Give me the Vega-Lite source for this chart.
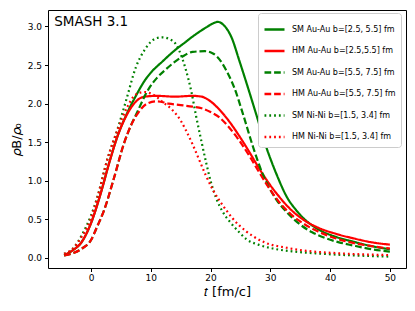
{
  "$schema": "https://vega.github.io/schema/vega-lite/v6.json",
  "width": 358,
  "height": 258,
  "autosize": {"type": "none"},
  "padding": {"left": 48, "top": 10, "right": 9, "bottom": 43},
  "config": {
    "font": "DejaVu Sans",
    "view": {"stroke": "#000", "strokeWidth": 1},
    "axis": {"domain": false, "grid": false, "tickColor": "#000", "tickSize": 3.5, "labelColor": "#000", "labelFontSize": 9, "titleColor": "#000", "titleFontWeight": "normal", "titleFontSize": 13}
  },
  "datasets": {
    "curves": [
      {"s":"SM Au-Au b=[2.5, 5.5] fm","t":-4.5,"v":0.03},{"s":"SM Au-Au b=[2.5, 5.5] fm","t":-3,"v":0.1},{"s":"SM Au-Au b=[2.5, 5.5] fm","t":-1.7,"v":0.19},{"s":"SM Au-Au b=[2.5, 5.5] fm","t":0,"v":0.45},{"s":"SM Au-Au b=[2.5, 5.5] fm","t":1.6,"v":0.83},{"s":"SM Au-Au b=[2.5, 5.5] fm","t":3,"v":1.22},{"s":"SM Au-Au b=[2.5, 5.5] fm","t":4.4,"v":1.57},{"s":"SM Au-Au b=[2.5, 5.5] fm","t":6,"v":1.87},{"s":"SM Au-Au b=[2.5, 5.5] fm","t":7.5,"v":2.1},{"s":"SM Au-Au b=[2.5, 5.5] fm","t":9,"v":2.3},{"s":"SM Au-Au b=[2.5, 5.5] fm","t":10,"v":2.4},{"s":"SM Au-Au b=[2.5, 5.5] fm","t":12,"v":2.55},{"s":"SM Au-Au b=[2.5, 5.5] fm","t":14,"v":2.69},{"s":"SM Au-Au b=[2.5, 5.5] fm","t":15.5,"v":2.78},{"s":"SM Au-Au b=[2.5, 5.5] fm","t":17,"v":2.87},{"s":"SM Au-Au b=[2.5, 5.5] fm","t":18.1,"v":2.93},{"s":"SM Au-Au b=[2.5, 5.5] fm","t":19.3,"v":2.99},{"s":"SM Au-Au b=[2.5, 5.5] fm","t":20.4,"v":3.04},{"s":"SM Au-Au b=[2.5, 5.5] fm","t":21.2,"v":3.06},{"s":"SM Au-Au b=[2.5, 5.5] fm","t":22.3,"v":3.01},{"s":"SM Au-Au b=[2.5, 5.5] fm","t":23.5,"v":2.86},{"s":"SM Au-Au b=[2.5, 5.5] fm","t":24.8,"v":2.56},{"s":"SM Au-Au b=[2.5, 5.5] fm","t":26,"v":2.27},{"s":"SM Au-Au b=[2.5, 5.5] fm","t":27.6,"v":1.87},{"s":"SM Au-Au b=[2.5, 5.5] fm","t":29.3,"v":1.44},{"s":"SM Au-Au b=[2.5, 5.5] fm","t":31,"v":1.09},{"s":"SM Au-Au b=[2.5, 5.5] fm","t":32.9,"v":0.77},{"s":"SM Au-Au b=[2.5, 5.5] fm","t":34.3,"v":0.62},{"s":"SM Au-Au b=[2.5, 5.5] fm","t":36,"v":0.48},{"s":"SM Au-Au b=[2.5, 5.5] fm","t":38.2,"v":0.36},{"s":"SM Au-Au b=[2.5, 5.5] fm","t":41,"v":0.27},{"s":"SM Au-Au b=[2.5, 5.5] fm","t":43.8,"v":0.21},{"s":"SM Au-Au b=[2.5, 5.5] fm","t":47,"v":0.15},{"s":"SM Au-Au b=[2.5, 5.5] fm","t":50,"v":0.11},

      {"s":"HM Au-Au b=[2.5,5.5] fm","t":-4.5,"v":0.035},{"s":"HM Au-Au b=[2.5,5.5] fm","t":-3,"v":0.1},{"s":"HM Au-Au b=[2.5,5.5] fm","t":-1.7,"v":0.19},{"s":"HM Au-Au b=[2.5,5.5] fm","t":0,"v":0.45},{"s":"HM Au-Au b=[2.5,5.5] fm","t":1.6,"v":0.83},{"s":"HM Au-Au b=[2.5,5.5] fm","t":3,"v":1.22},{"s":"HM Au-Au b=[2.5,5.5] fm","t":4.4,"v":1.57},{"s":"HM Au-Au b=[2.5,5.5] fm","t":6.1,"v":1.87},{"s":"HM Au-Au b=[2.5,5.5] fm","t":7,"v":1.98},{"s":"HM Au-Au b=[2.5,5.5] fm","t":8,"v":2.06},{"s":"HM Au-Au b=[2.5,5.5] fm","t":9,"v":2.09},{"s":"HM Au-Au b=[2.5,5.5] fm","t":11,"v":2.1},{"s":"HM Au-Au b=[2.5,5.5] fm","t":14,"v":2.09},{"s":"HM Au-Au b=[2.5,5.5] fm","t":17,"v":2.1},{"s":"HM Au-Au b=[2.5,5.5] fm","t":18.5,"v":2.09},{"s":"HM Au-Au b=[2.5,5.5] fm","t":19.8,"v":2.04},{"s":"HM Au-Au b=[2.5,5.5] fm","t":21.5,"v":1.92},{"s":"HM Au-Au b=[2.5,5.5] fm","t":23.2,"v":1.76},{"s":"HM Au-Au b=[2.5,5.5] fm","t":24.8,"v":1.58},{"s":"HM Au-Au b=[2.5,5.5] fm","t":26.5,"v":1.37},{"s":"HM Au-Au b=[2.5,5.5] fm","t":28.2,"v":1.15},{"s":"HM Au-Au b=[2.5,5.5] fm","t":30,"v":0.94},{"s":"HM Au-Au b=[2.5,5.5] fm","t":31.5,"v":0.79},{"s":"HM Au-Au b=[2.5,5.5] fm","t":33.5,"v":0.62},{"s":"HM Au-Au b=[2.5,5.5] fm","t":35.4,"v":0.5},{"s":"HM Au-Au b=[2.5,5.5] fm","t":38,"v":0.39},{"s":"HM Au-Au b=[2.5,5.5] fm","t":41,"v":0.31},{"s":"HM Au-Au b=[2.5,5.5] fm","t":44,"v":0.25},{"s":"HM Au-Au b=[2.5,5.5] fm","t":47,"v":0.2},{"s":"HM Au-Au b=[2.5,5.5] fm","t":50,"v":0.17},

      {"s":"SM Au-Au b=[5.5, 7.5] fm","t":-4.5,"v":0.03},{"s":"SM Au-Au b=[5.5, 7.5] fm","t":-3,"v":0.06},{"s":"SM Au-Au b=[5.5, 7.5] fm","t":-1.5,"v":0.12},{"s":"SM Au-Au b=[5.5, 7.5] fm","t":0,"v":0.23},{"s":"SM Au-Au b=[5.5, 7.5] fm","t":1,"v":0.4},{"s":"SM Au-Au b=[5.5, 7.5] fm","t":2.2,"v":0.62},{"s":"SM Au-Au b=[5.5, 7.5] fm","t":3.9,"v":1.05},{"s":"SM Au-Au b=[5.5, 7.5] fm","t":5.5,"v":1.48},{"s":"SM Au-Au b=[5.5, 7.5] fm","t":6.7,"v":1.72},{"s":"SM Au-Au b=[5.5, 7.5] fm","t":7.8,"v":1.9},{"s":"SM Au-Au b=[5.5, 7.5] fm","t":9,"v":2.1},{"s":"SM Au-Au b=[5.5, 7.5] fm","t":9.8,"v":2.21},{"s":"SM Au-Au b=[5.5, 7.5] fm","t":11,"v":2.33},{"s":"SM Au-Au b=[5.5, 7.5] fm","t":12.6,"v":2.45},{"s":"SM Au-Au b=[5.5, 7.5] fm","t":14,"v":2.54},{"s":"SM Au-Au b=[5.5, 7.5] fm","t":15.3,"v":2.61},{"s":"SM Au-Au b=[5.5, 7.5] fm","t":17,"v":2.67},{"s":"SM Au-Au b=[5.5, 7.5] fm","t":19,"v":2.68},{"s":"SM Au-Au b=[5.5, 7.5] fm","t":20.4,"v":2.65},{"s":"SM Au-Au b=[5.5, 7.5] fm","t":21.8,"v":2.54},{"s":"SM Au-Au b=[5.5, 7.5] fm","t":22.9,"v":2.39},{"s":"SM Au-Au b=[5.5, 7.5] fm","t":24,"v":2.2},{"s":"SM Au-Au b=[5.5, 7.5] fm","t":25.4,"v":1.87},{"s":"SM Au-Au b=[5.5, 7.5] fm","t":27.1,"v":1.44},{"s":"SM Au-Au b=[5.5, 7.5] fm","t":28.7,"v":1.09},{"s":"SM Au-Au b=[5.5, 7.5] fm","t":30.7,"v":0.79},{"s":"SM Au-Au b=[5.5, 7.5] fm","t":33,"v":0.57},{"s":"SM Au-Au b=[5.5, 7.5] fm","t":35,"v":0.43},{"s":"SM Au-Au b=[5.5, 7.5] fm","t":37,"v":0.33},{"s":"SM Au-Au b=[5.5, 7.5] fm","t":39.4,"v":0.25},{"s":"SM Au-Au b=[5.5, 7.5] fm","t":41.5,"v":0.2},{"s":"SM Au-Au b=[5.5, 7.5] fm","t":43.8,"v":0.16},{"s":"SM Au-Au b=[5.5, 7.5] fm","t":47,"v":0.11},{"s":"SM Au-Au b=[5.5, 7.5] fm","t":50,"v":0.08},

      {"s":"HM Au-Au b=[5.5, 7.5] fm","t":-4.5,"v":0.03},{"s":"HM Au-Au b=[5.5, 7.5] fm","t":-3,"v":0.06},{"s":"HM Au-Au b=[5.5, 7.5] fm","t":-1.5,"v":0.12},{"s":"HM Au-Au b=[5.5, 7.5] fm","t":0,"v":0.23},{"s":"HM Au-Au b=[5.5, 7.5] fm","t":1,"v":0.4},{"s":"HM Au-Au b=[5.5, 7.5] fm","t":2.2,"v":0.62},{"s":"HM Au-Au b=[5.5, 7.5] fm","t":3.9,"v":1.05},{"s":"HM Au-Au b=[5.5, 7.5] fm","t":5.5,"v":1.48},{"s":"HM Au-Au b=[5.5, 7.5] fm","t":6.7,"v":1.72},{"s":"HM Au-Au b=[5.5, 7.5] fm","t":7.8,"v":1.87},{"s":"HM Au-Au b=[5.5, 7.5] fm","t":9.4,"v":2.0},{"s":"HM Au-Au b=[5.5, 7.5] fm","t":11,"v":2.03},{"s":"HM Au-Au b=[5.5, 7.5] fm","t":13,"v":2.0},{"s":"HM Au-Au b=[5.5, 7.5] fm","t":15,"v":1.98},{"s":"HM Au-Au b=[5.5, 7.5] fm","t":17,"v":1.96},{"s":"HM Au-Au b=[5.5, 7.5] fm","t":18.5,"v":1.94},{"s":"HM Au-Au b=[5.5, 7.5] fm","t":20,"v":1.89},{"s":"HM Au-Au b=[5.5, 7.5] fm","t":21.5,"v":1.82},{"s":"HM Au-Au b=[5.5, 7.5] fm","t":23,"v":1.7},{"s":"HM Au-Au b=[5.5, 7.5] fm","t":24.8,"v":1.52},{"s":"HM Au-Au b=[5.5, 7.5] fm","t":26.5,"v":1.32},{"s":"HM Au-Au b=[5.5, 7.5] fm","t":28.2,"v":1.1},{"s":"HM Au-Au b=[5.5, 7.5] fm","t":30,"v":0.88},{"s":"HM Au-Au b=[5.5, 7.5] fm","t":31.5,"v":0.72},{"s":"HM Au-Au b=[5.5, 7.5] fm","t":33.5,"v":0.56},{"s":"HM Au-Au b=[5.5, 7.5] fm","t":35.4,"v":0.45},{"s":"HM Au-Au b=[5.5, 7.5] fm","t":38,"v":0.34},{"s":"HM Au-Au b=[5.5, 7.5] fm","t":41,"v":0.25},{"s":"HM Au-Au b=[5.5, 7.5] fm","t":44,"v":0.19},{"s":"HM Au-Au b=[5.5, 7.5] fm","t":47,"v":0.15},{"s":"HM Au-Au b=[5.5, 7.5] fm","t":50,"v":0.12},

      {"s":"SM Ni-Ni b=[1.5, 3.4] fm","t":-4.5,"v":0.05},{"s":"SM Ni-Ni b=[1.5, 3.4] fm","t":-3,"v":0.12},{"s":"SM Ni-Ni b=[1.5, 3.4] fm","t":-1.5,"v":0.3},{"s":"SM Ni-Ni b=[1.5, 3.4] fm","t":0,"v":0.55},{"s":"SM Ni-Ni b=[1.5, 3.4] fm","t":1.1,"v":0.8},{"s":"SM Ni-Ni b=[1.5, 3.4] fm","t":2.7,"v":1.27},{"s":"SM Ni-Ni b=[1.5, 3.4] fm","t":4.4,"v":1.66},{"s":"SM Ni-Ni b=[1.5, 3.4] fm","t":5.9,"v":2.05},{"s":"SM Ni-Ni b=[1.5, 3.4] fm","t":7.5,"v":2.47},{"s":"SM Ni-Ni b=[1.5, 3.4] fm","t":9,"v":2.7},{"s":"SM Ni-Ni b=[1.5, 3.4] fm","t":10,"v":2.8},{"s":"SM Ni-Ni b=[1.5, 3.4] fm","t":11,"v":2.85},{"s":"SM Ni-Ni b=[1.5, 3.4] fm","t":12,"v":2.86},{"s":"SM Ni-Ni b=[1.5, 3.4] fm","t":13,"v":2.84},{"s":"SM Ni-Ni b=[1.5, 3.4] fm","t":14.2,"v":2.77},{"s":"SM Ni-Ni b=[1.5, 3.4] fm","t":15.2,"v":2.6},{"s":"SM Ni-Ni b=[1.5, 3.4] fm","t":15.9,"v":2.43},{"s":"SM Ni-Ni b=[1.5, 3.4] fm","t":16.8,"v":2.15},{"s":"SM Ni-Ni b=[1.5, 3.4] fm","t":17.6,"v":1.83},{"s":"SM Ni-Ni b=[1.5, 3.4] fm","t":18.5,"v":1.5},{"s":"SM Ni-Ni b=[1.5, 3.4] fm","t":19.3,"v":1.22},{"s":"SM Ni-Ni b=[1.5, 3.4] fm","t":20.1,"v":0.97},{"s":"SM Ni-Ni b=[1.5, 3.4] fm","t":20.9,"v":0.78},{"s":"SM Ni-Ni b=[1.5, 3.4] fm","t":22,"v":0.6},{"s":"SM Ni-Ni b=[1.5, 3.4] fm","t":23.2,"v":0.47},{"s":"SM Ni-Ni b=[1.5, 3.4] fm","t":24.8,"v":0.33},{"s":"SM Ni-Ni b=[1.5, 3.4] fm","t":26,"v":0.24},{"s":"SM Ni-Ni b=[1.5, 3.4] fm","t":28,"v":0.17},{"s":"SM Ni-Ni b=[1.5, 3.4] fm","t":30.4,"v":0.12},{"s":"SM Ni-Ni b=[1.5, 3.4] fm","t":34,"v":0.08},{"s":"SM Ni-Ni b=[1.5, 3.4] fm","t":38,"v":0.055},{"s":"SM Ni-Ni b=[1.5, 3.4] fm","t":44,"v":0.03},{"s":"SM Ni-Ni b=[1.5, 3.4] fm","t":50,"v":0.015},

      {"s":"HM Ni-Ni b=[1.5, 3.4] fm","t":-4.5,"v":0.05},{"s":"HM Ni-Ni b=[1.5, 3.4] fm","t":-3,"v":0.12},{"s":"HM Ni-Ni b=[1.5, 3.4] fm","t":-1.5,"v":0.28},{"s":"HM Ni-Ni b=[1.5, 3.4] fm","t":-0.6,"v":0.4},{"s":"HM Ni-Ni b=[1.5, 3.4] fm","t":1.1,"v":0.79},{"s":"HM Ni-Ni b=[1.5, 3.4] fm","t":2.7,"v":1.27},{"s":"HM Ni-Ni b=[1.5, 3.4] fm","t":4.4,"v":1.65},{"s":"HM Ni-Ni b=[1.5, 3.4] fm","t":6.1,"v":1.96},{"s":"HM Ni-Ni b=[1.5, 3.4] fm","t":7,"v":2.08},{"s":"HM Ni-Ni b=[1.5, 3.4] fm","t":8.1,"v":2.14},{"s":"HM Ni-Ni b=[1.5, 3.4] fm","t":9,"v":2.15},{"s":"HM Ni-Ni b=[1.5, 3.4] fm","t":10,"v":2.13},{"s":"HM Ni-Ni b=[1.5, 3.4] fm","t":10.9,"v":2.09},{"s":"HM Ni-Ni b=[1.5, 3.4] fm","t":12,"v":2.02},{"s":"HM Ni-Ni b=[1.5, 3.4] fm","t":13.7,"v":1.91},{"s":"HM Ni-Ni b=[1.5, 3.4] fm","t":15,"v":1.78},{"s":"HM Ni-Ni b=[1.5, 3.4] fm","t":15.9,"v":1.65},{"s":"HM Ni-Ni b=[1.5, 3.4] fm","t":17,"v":1.47},{"s":"HM Ni-Ni b=[1.5, 3.4] fm","t":18.1,"v":1.27},{"s":"HM Ni-Ni b=[1.5, 3.4] fm","t":19.2,"v":1.07},{"s":"HM Ni-Ni b=[1.5, 3.4] fm","t":20.4,"v":0.88},{"s":"HM Ni-Ni b=[1.5, 3.4] fm","t":21.5,"v":0.74},{"s":"HM Ni-Ni b=[1.5, 3.4] fm","t":22.6,"v":0.62},{"s":"HM Ni-Ni b=[1.5, 3.4] fm","t":23.7,"v":0.51},{"s":"HM Ni-Ni b=[1.5, 3.4] fm","t":24.8,"v":0.42},{"s":"HM Ni-Ni b=[1.5, 3.4] fm","t":26,"v":0.34},{"s":"HM Ni-Ni b=[1.5, 3.4] fm","t":27.1,"v":0.28},{"s":"HM Ni-Ni b=[1.5, 3.4] fm","t":29,"v":0.2},{"s":"HM Ni-Ni b=[1.5, 3.4] fm","t":32.7,"v":0.13},{"s":"HM Ni-Ni b=[1.5, 3.4] fm","t":36,"v":0.09},{"s":"HM Ni-Ni b=[1.5, 3.4] fm","t":41,"v":0.06},{"s":"HM Ni-Ni b=[1.5, 3.4] fm","t":45,"v":0.045},{"s":"HM Ni-Ni b=[1.5, 3.4] fm","t":50,"v":0.035}
    ],
    "label": [{"text": "SMASH 3.1", "t": -6.15, "v": 3.01}]
  },
  "layer": [
    {
      "data": {"name": "curves"},
      "mark": {"type": "line", "strokeWidth": 2.2, "interpolate": "monotone", "strokeCap": "butt"},
      "encoding": {
        "x": {"field": "t", "type": "quantitative", "scale": {"domain": [-7.2, 52.7], "nice": false, "zero": false},
              "axis": {"values": [0, 10, 20, 30, 40, 50], "title": "𝑡 [fm/c]", "labelPadding": 2, "titlePadding": 3}},
        "y": {"field": "v", "type": "quantitative", "scale": {"domain": [-0.133, 3.214], "nice": false, "zero": false},
              "axis": {"values": [0, 0.5, 1, 1.5, 2, 2.5, 3], "format": ".1f", "title": "𝜌B/𝜌₀", "labelPadding": 3, "titlePadding": 4}},
        "color": {"field": "s", "type": "nominal",
          "scale": {"domain": ["SM Au-Au b=[2.5, 5.5] fm", "HM Au-Au b=[2.5,5.5] fm", "SM Au-Au b=[5.5, 7.5] fm", "HM Au-Au b=[5.5, 7.5] fm", "SM Ni-Ni b=[1.5, 3.4] fm", "HM Ni-Ni b=[1.5, 3.4] fm"],
                    "range": ["#008000", "#ff0000", "#008000", "#ff0000", "#008000", "#ff0000"]},
          "legend": {"title": null, "orient": "none", "legendX": 210, "legendY": 3, "symbolType": "stroke", "symbolSize": 400, "symbolStrokeWidth": 2.5, "labelFontSize": 8, "labelColor": "#000", "rowPadding": 4.5, "padding": 5, "fillColor": "white", "strokeColor": "#cccccc", "cornerRadius": 3, "labelOffset": 6}},
        "strokeDash": {"field": "s", "type": "nominal",
          "scale": {"domain": ["SM Au-Au b=[2.5, 5.5] fm", "HM Au-Au b=[2.5,5.5] fm", "SM Au-Au b=[5.5, 7.5] fm", "HM Au-Au b=[5.5, 7.5] fm", "SM Ni-Ni b=[1.5, 3.4] fm", "HM Ni-Ni b=[1.5, 3.4] fm"],
                    "range": [[1, 0], [1, 0], [6.7, 2.9], [6.7, 2.9], [1.8, 3], [1.8, 3]]}}
      }
    },
    {
      "data": {"name": "label"},
      "mark": {"type": "text", "align": "left", "baseline": "alphabetic", "fontSize": 13.5, "color": "#000"},
      "encoding": {
        "x": {"field": "t", "type": "quantitative"},
        "y": {"field": "v", "type": "quantitative"},
        "text": {"field": "text"}
      }
    }
  ]
}
